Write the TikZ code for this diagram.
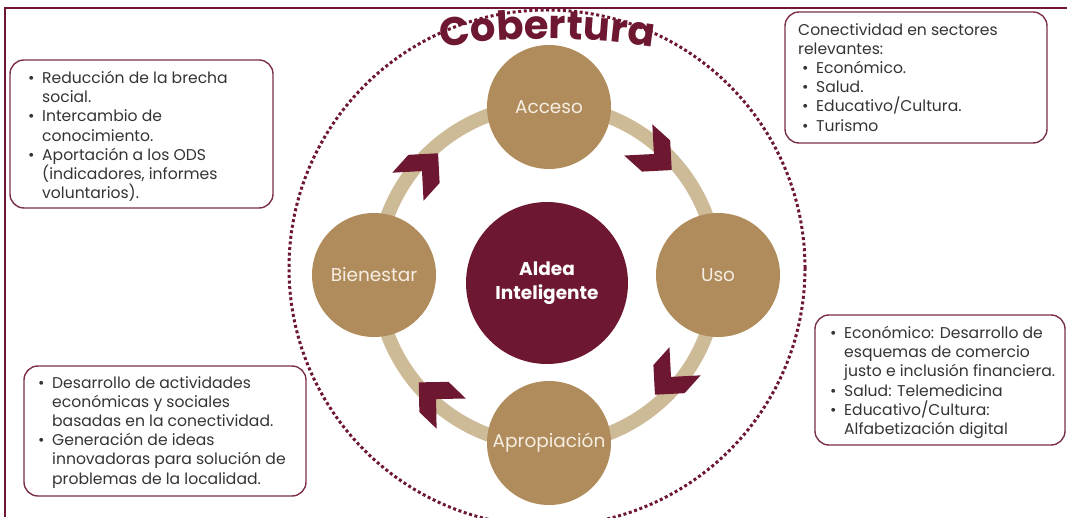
\documentclass[tikz,border=0pt]{standalone}
\usepackage{fontspec}
\setmainfont{Poppins}
\usetikzlibrary{decorations.text}
\definecolor{maroon}{HTML}{6D1730}
\definecolor{boxc}{HTML}{7A3046}
\definecolor{tanc}{HTML}{B08C5C}
\definecolor{ringc}{HTML}{CDBB98}
\definecolor{cream}{HTML}{F6EEE2}
\definecolor{txt}{HTML}{343434}
\newcommand\bl{\makebox[14pt][l]{\textbullet}}
\newcommand\ind{\hspace*{14pt}}
\tikzset{
  tancircle/.style={circle, fill=tanc, minimum size=124pt, inner sep=0pt, text=cream, font=\fontsize{18.5}{22}\selectfont},
  infobox/.style={draw=boxc, line width=1.4pt, rounded corners=14pt, fill=white, inner sep=0pt},
  boxtext/.style={anchor=north west, inner sep=0pt, align=left, text=txt, font=\fontsize{15.6}{19.2}\selectfont},
  chevron/.pic={\fill[maroon] (-22.5,-21) -- (1.5,-21) -- (22.5,0) -- (1.5,21) -- (-22.5,21) -- (-1.5,0) -- cycle;},
  dotted ring/.style={draw=maroon, line width=3pt, dash pattern=on 3pt off 2.6pt},
}
\begin{document}
\begin{tikzpicture}[x=1pt,y=1pt]
\useasboundingbox (0,0) rectangle (1067,517);
% frame
\draw[maroon, line width=2.5pt] (1067,509) -- (5,509) -- (5,0);
% dotted outer circle
\node[circle, dotted ring, minimum size=516pt, inner sep=0pt] (cov) at (547,249) {};
% title along an arc
\path[decorate, decoration={text along path, text align=center, text color=maroon,
  text={|\bfseries\fontsize{40}{40}\selectfont|Cobertura}}]
  (431,468) arc[start angle=100, end angle=80, radius=670];
% ring
\node[circle, draw=ringc, line width=14pt, minimum size=340pt, inner sep=0pt] (ring) at (547,242) {};
% outer circles
\node[tancircle] (acceso) at (549,410) {Acceso};
\node[tancircle] (uso) at (718,242) {Uso};
\node[tancircle] (bien) at (374,242) {Bienestar};
\node[tancircle] (apro) at (549,74) {Apropiación};
% centre
\node[circle, fill=maroon, minimum size=162pt, inner sep=0pt, text=white, align=center,
  font=\bfseries\fontsize{18.5}{24}\selectfont] (aldea) at (547,234) {Aldea\\Inteligente};
% chevrons
\path (423,347) pic[rotate=48] {chevron};
\path (655,362) pic[rotate=-42] {chevron};
\path (670,139) pic[rotate=-132] {chevron};
\path (435,119) pic[rotate=136] {chevron};
% boxes
\node[infobox, minimum width=262pt, minimum height=131pt] (btr) at (916,439.5) {};
\node[infobox, minimum width=263pt, minimum height=148pt] (btl) at (141.5,383) {};
\node[infobox, minimum width=282pt, minimum height=130pt] (bbl) at (165,86) {};
\node[infobox, minimum width=250pt, minimum height=130pt] (bbr) at (940,137) {};
% box texts
\node[boxtext] (ttr) at (798,494) {Conectividad en sectores\\relevantes:\\
\hspace*{4pt}\bl Económico.\\\hspace*{4pt}\bl Salud.\\\hspace*{4pt}\bl Educativo/Cultura.\\\hspace*{4pt}\bl Turismo};
\node[boxtext] (ttl) at (28,446) {\bl Reducción de la brecha\\\ind social.\\\bl Intercambio de\\\ind conocimiento.\\
\bl Aportación a los ODS\\\ind (indicadores, informes\\\ind voluntarios).};
\node[boxtext] (tbl) at (38,141) {\bl Desarrollo de actividades\\\ind económicas y sociales\\\ind basadas en la conectividad.\\
\bl Generación de ideas\\\ind innovadoras para solución de\\\ind problemas de la localidad.};
\node[boxtext] (tbr) at (830,191) {\bl Económico: Desarrollo de\\\ind esquemas de comercio\\\ind justo e inclusión financiera.\\
\bl Salud: Telemedicina\\\bl Educativo/Cultura:\\\ind Alfabetización digital};
\end{tikzpicture}
\end{document}
